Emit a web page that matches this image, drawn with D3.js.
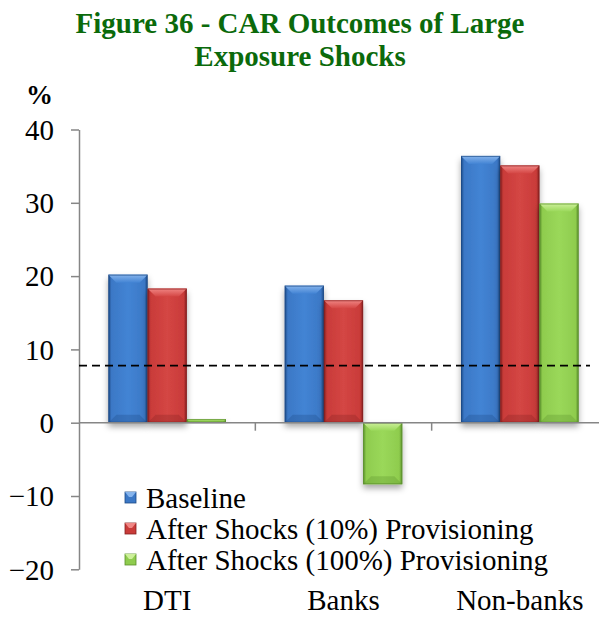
<!DOCTYPE html>
<html><head><meta charset="utf-8">
<script src="https://cdn.jsdelivr.net/npm/d3@7"></script>
<style>
html,body{margin:0;padding:0;background:#fff;}
svg text{font-family:"Liberation Serif","Times New Roman","DejaVu Serif",serif !important;}
</style></head>
<body>
<script>
const categories = ["DTI", "Banks", "Non-banks"];
const seriesNames = ["Baseline", "After Shocks (10%) Provisioning", "After Shocks (100%) Provisioning"];
const baseline = [20.2, 18.7, 36.4];
const shock10 = [18.3, 16.7, 35.1];
const shock100 = [0.5, -8.4, 29.9];
const threshold = 7.8;
const yTicks = [-20, -10, 0, 10, 20, 30, 40];
const titleLines = ["Figure 36 - CAR Outcomes of Large", "Exposure Shocks"];

const W = 599, H = 618;
const svg = d3.select("body").append("svg").attr("width", W).attr("height", H);
const defs = svg.append("defs");

const palettes = [
  {base:"#3b78c6", light:"#86b4ec", dark:"#1d4a86", mid:"#4384d4"},
  {base:"#c93b39", light:"#f08684", dark:"#842020", mid:"#d44644"},
  {base:"#8fcc4e", light:"#cdf09a", dark:"#5a8f2c", mid:"#9ad85a"}
];
palettes.forEach((p,i)=>{
  const g = defs.append("linearGradient").attr("id","gh"+i).attr("x1","0").attr("x2","1").attr("y1","0").attr("y2","0");
  g.append("stop").attr("offset","0").attr("stop-color",p.dark);
  g.append("stop").attr("offset","0.08").attr("stop-color",p.base);
  g.append("stop").attr("offset","0.5").attr("stop-color",p.mid);
  g.append("stop").attr("offset","0.92").attr("stop-color",p.base);
  g.append("stop").attr("offset","1").attr("stop-color",p.dark);
  const t = defs.append("linearGradient").attr("id","gt"+i).attr("x1","0").attr("x2","0").attr("y1","0").attr("y2","1");
  t.append("stop").attr("offset","0").attr("stop-color",p.light);
  t.append("stop").attr("offset","1").attr("stop-color",p.mid);
});
const f = defs.append("filter").attr("id","shadow").attr("x","-20%").attr("y","-10%").attr("width","140%").attr("height","130%");
f.append("feDropShadow").attr("dx",0).attr("dy",4).attr("stdDeviation",3).attr("flood-color","#000").attr("flood-opacity",0.35);

const plotLeft = 79, plotRight = 608;
const y = d3.scaleLinear().domain([-20, 40]).range([569.3, 129.5]);
const x0 = d3.scaleBand().domain(categories).range([plotLeft, plotRight]).paddingInner(0.333).paddingOuter(0.1667);
const x1 = d3.scaleBand().domain(d3.range(3)).range([0, x0.bandwidth()]);

// title
svg.append("g").selectAll("text").data(titleLines).join("text")
  .attr("x", 300).attr("y", (d,i)=>33 + i*33)
  .attr("text-anchor","middle").attr("font-weight","bold").attr("font-size",29)
  .attr("fill","#0b6a0b").text(d=>d);

svg.append("text").attr("x",26).attr("y",104).attr("font-weight","bold").attr("font-size",27).text("%");

// y axis
const yAxis = d3.axisLeft(y).tickValues(yTicks).tickSize(8).tickSizeOuter(0).tickFormat(d3.format("d"));
const ya = svg.append("g").attr("transform",`translate(${plotLeft},0)`).call(yAxis);
ya.select(".domain").attr("stroke","#868686").attr("stroke-width",1.5);
ya.selectAll(".tick line").attr("stroke","#868686").attr("stroke-width",1.5);
ya.selectAll(".tick text").attr("font-size",29).attr("fill","#000").attr("x",-25).attr("dy","0.34em");

// bars
const data = [baseline, shock10, shock100];
const bars = svg.append("g");
categories.forEach((c,ci)=>{
  data.forEach((s,si)=>{
    const v = s[ci];
    const bx = x0(c) + x1(si), bw = x1.bandwidth();
    const top = y(Math.max(v,0)), bot = y(Math.min(v,0));
    const h = bot - top;
    const g = bars.append("g");
    g.append("rect").attr("x",bx).attr("y",top).attr("width",bw).attr("height",h)
      .attr("fill","url(#gh"+si+")").attr("filter","url(#shadow)");
    const bv = Math.min(8, h/2);
    g.append("path").attr("d", `M${bx},${top}L${bx+bw},${top}L${bx+bw-bv},${top+bv}L${bx+bv},${top+bv}Z`)
      .attr("fill","url(#gt"+si+")");
    g.append("path").attr("d", `M${bx},${bot}L${bx+bw},${bot}L${bx+bw-bv},${bot-bv}L${bx+bv},${bot-bv}Z`)
      .attr("fill",palettes[si].dark).attr("opacity",0.3);
    g.append("rect").attr("x",bx+0.5).attr("y",top+0.5).attr("width",bw-1).attr("height",Math.max(h-1,0))
      .attr("fill","none").attr("stroke",palettes[si].dark).attr("stroke-width",1).attr("opacity",0.7);
  });
});

// x axis
const xAxisG = svg.append("g").attr("transform",`translate(0,${y(0)})`);
xAxisG.append("line").attr("x1",plotLeft).attr("x2",plotRight).attr("stroke","#868686").attr("stroke-width",1.5);
const step = x0.step();
const boundaries = categories.slice(1).map(c => x0(c) - step*x0.paddingInner()/2);
xAxisG.selectAll(".xt").data(boundaries).join("line").attr("class","xt")
  .attr("x1",d=>d).attr("x2",d=>d).attr("y1",0).attr("y2",8).attr("stroke","#868686").attr("stroke-width",1.5);

// category labels
svg.append("g").selectAll("text").data(categories).join("text")
  .attr("x",d=>x0(d)+x0.bandwidth()/2).attr("y",610).attr("text-anchor","middle")
  .attr("font-size",29).text(d=>d);

// threshold line
svg.append("line").attr("x1",plotLeft).attr("x2",590).attr("y1",y(threshold)).attr("y2",y(threshold))
  .attr("stroke","#000").attr("stroke-width",1.8).attr("stroke-dasharray","8,5");

// legend
const leg = svg.append("g").selectAll("g").data(seriesNames).join("g")
  .attr("transform",(d,i)=>`translate(125,${508 + i*31})`);
leg.each(function(d,i){
  const g = d3.select(this);
  const p = palettes[i];
  g.append("rect").attr("x",0).attr("y",-16).attr("width",11).attr("height",11).attr("fill",p.base).attr("stroke",p.dark).attr("stroke-width",0.8);
  g.append("path").attr("d","M0,-16L11,-16L7,-11L4,-11Z").attr("fill",p.light);
  g.append("text").attr("x",21).attr("y",0).attr("font-size",29).text(d);
});
</script>
</body></html>
